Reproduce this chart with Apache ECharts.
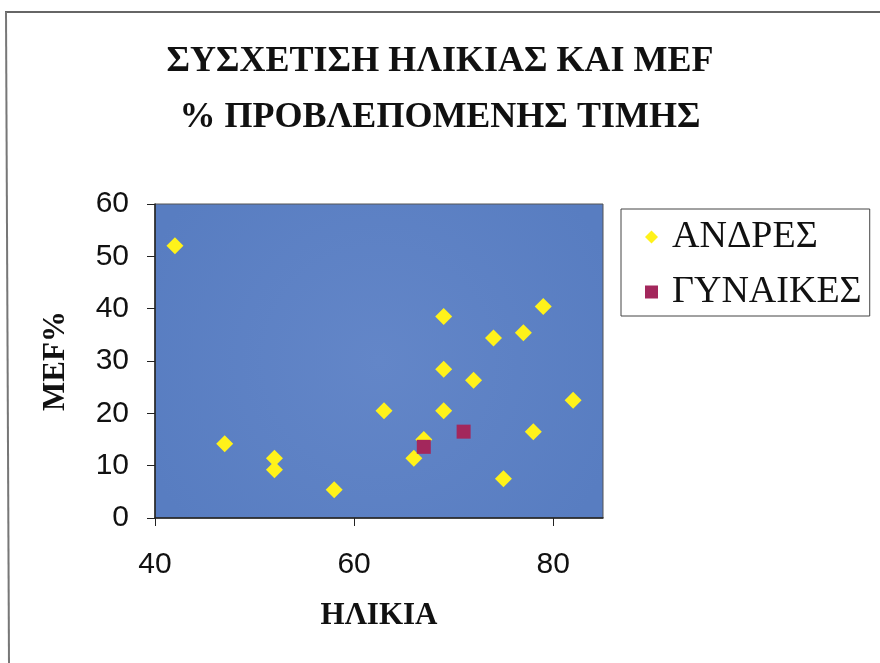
<!DOCTYPE html>
<html>
<head>
<meta charset="utf-8">
<script src="https://cdn.jsdelivr.net/npm/echarts@6/dist/echarts.min.js"></script>
<style>html,body{margin:0;padding:0;background:#fff}#c{width:880px;height:663px}</style>
</head>
<body>
<div id="c"></div>
<script>
const titleText = 'ΣΥΣΧΕΤΙΣΗ ΗΛΙΚΙΑΣ ΚΑΙ MEF\n% ΠΡΟΒΛΕΠΟΜΕΝΗΣ ΤΙΜΗΣ';
const xName = 'ΗΛΙΚΙΑ';
const yName = 'MEF%';
const seriesNames = ['ΑΝΔΡΕΣ', 'ΓΥΝΑΙΚΕΣ'];
const menAge = [42, 47, 52, 52, 58, 63, 66, 67, 69, 69, 69, 72, 74, 75, 77, 78, 79, 82];
const menMef = [52, 14.2, 11.4, 9.2, 5.4, 20.5, 11.4, 15, 38.5, 28.4, 20.5, 26.3, 34.4, 7.5, 35.4, 16.5, 40.4, 22.5];
const womenAge = [67, 71];
const womenMef = [13.6, 16.5];

const menData = menAge.map((a, i) => [a, menMef[i]]);
const womenData = womenAge.map((a, i) => [a, womenMef[i]]);

const chart = echarts.init(document.getElementById('c'), null, {renderer: 'canvas'});
chart.setOption({
  animation: false,
  backgroundColor: '#ffffff',
  title: {
    text: titleText,
    left: 'center',
    top: 29,
    textStyle: {fontFamily: 'Liberation Serif', fontWeight: 'bold', fontSize: 36, lineHeight: 56, color: '#111'}
  },
  graphic: [
    {type: 'line', shape: {x1: 5, y1: 12, x2: 880, y2: 12}, style: {stroke: '#666', lineWidth: 2}},
    {type: 'line', shape: {x1: 6, y1: 12, x2: 9, y2: 663}, style: {stroke: '#777', lineWidth: 2}}
  ],
  legend: {
    orient: 'vertical',
    left: 621,
    top: 209,
    padding: [9, 8, 5, 24],
    itemGap: 17,
    itemWidth: 13,
    itemHeight: 13,
    borderColor: '#444',
    borderWidth: 1,
    backgroundColor: '#fff',
    textStyle: {fontFamily: 'Liberation Serif', fontSize: 38, color: '#111', padding: [0, 0, 0, 9]},
    data: [
      {name: seriesNames[0], icon: 'diamond'},
      {name: seriesNames[1], icon: 'rect'}
    ]
  },
  grid: {
    left: 155, top: 204, right: 277, bottom: 145,
    show: true,
    backgroundColor: {
      type: 'radial', x: 0.5, y: 0.5, r: 0.8,
      colorStops: [{offset: 0, color: '#6386c8'}, {offset: 1, color: '#587dc1'}]
    },
    borderColor: '#555',
    borderWidth: 1
  },
  xAxis: {
    type: 'value', min: 40, max: 85, interval: 20,
    name: xName, nameLocation: 'middle', nameGap: 82,
    nameTextStyle: {fontFamily: 'Liberation Serif', fontWeight: 'bold', fontSize: 31, color: '#111'},
    axisLine: {show: true, lineStyle: {color: '#222', width: 1.5}},
    axisTick: {show: true, length: 8, lineStyle: {color: '#222'}},
    splitLine: {show: false},
    axisLabel: {margin: 32, fontFamily: 'Liberation Sans', fontSize: 30, color: '#111', showMaxLabel: false}
  },
  yAxis: {
    type: 'value', min: 0, max: 60, interval: 10,
    name: yName, nameLocation: 'middle', nameGap: 84, nameRotate: 90,
    nameTextStyle: {fontFamily: 'Liberation Serif', fontWeight: 'bold', fontSize: 31, color: '#111'},
    axisLine: {show: true, lineStyle: {color: '#222', width: 1.5}},
    axisTick: {show: true, length: 8, lineStyle: {color: '#222'}},
    splitLine: {show: false},
    axisLabel: {margin: 26, fontFamily: 'Liberation Sans', fontSize: 30, color: '#111'}
  },
  series: [
    {name: seriesNames[0], type: 'scatter', symbol: 'diamond', symbolSize: 17,
     itemStyle: {color: '#fff21a', opacity: 1}, data: menData, z: 2},
    {name: seriesNames[1], type: 'scatter', symbol: 'rect', symbolSize: 14,
     itemStyle: {color: '#a3275c', opacity: 1}, data: womenData, z: 3}
  ]
});
</script>
</body>
</html>
